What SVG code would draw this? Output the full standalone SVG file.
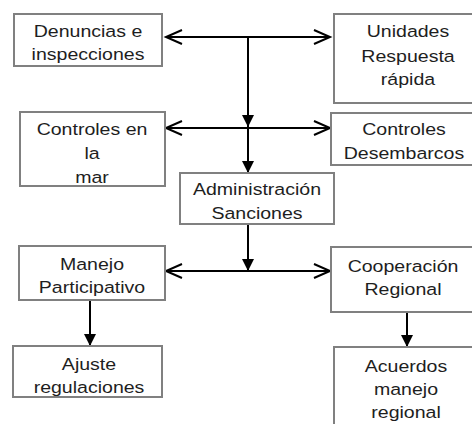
<svg xmlns="http://www.w3.org/2000/svg" width="472" height="424" viewBox="0 0 472 424">
<style>
.box{fill:#fff;stroke:#808080;stroke-width:2}
.t{font-family:"Liberation Sans",Arial,sans-serif;font-size:17px;fill:#1e1e1e;text-anchor:middle}
.c{fill:none;stroke:#000;stroke-width:2}
.o{marker-start:url(#open);marker-end:url(#open)}
.f{marker-end:url(#fill)}
</style>
<defs>
<marker id="open" markerUnits="userSpaceOnUse" viewBox="0 0 18 16" refX="17" refY="8" markerWidth="18" markerHeight="16" orient="auto-start-reverse" overflow="visible">
<path d="M1,1 L17,8 L1,15" fill="none" stroke="#000" stroke-width="2"/>
</marker>
<marker id="fill" markerUnits="userSpaceOnUse" viewBox="0 0 12 12" refX="12" refY="6" markerWidth="12" markerHeight="12" orient="auto" overflow="visible">
<path d="M0,0 L12,6 L0,12 Z" fill="#000"/>
</marker>
</defs>
<rect width="472" height="424" fill="#fff"/>
<g id="connectors">
<line class="c o" x1="166" y1="37" x2="330" y2="37"/>
<line class="c f" x1="248" y1="37" x2="248" y2="127"/>
<line class="c o" x1="166" y1="128" x2="330" y2="128"/>
<line class="c f" x1="248" y1="128" x2="248" y2="173"/>
<line class="c f" x1="248" y1="224" x2="248" y2="271"/>
<line class="c o" x1="166" y1="271" x2="330" y2="271"/>
<line class="c f" x1="90" y1="300" x2="90" y2="346"/>
<line class="c f" x1="407" y1="312" x2="407" y2="347"/>
</g>
<g id="denuncias">
<rect class="box" x="14" y="14" width="148" height="52"/>
<text class="t" transform="translate(88 0) scale(1.15 1)"><tspan x="0" y="37">Denuncias e</tspan><tspan x="0" y="60">inspecciones</tspan></text>
</g>
<g id="unidades">
<rect class="box" x="334" y="14" width="150" height="89"/>
<text class="t" transform="translate(408 0) scale(1.15 1)"><tspan x="0" y="37">Unidades</tspan><tspan x="0" y="62">Respuesta</tspan><tspan x="0" y="85">rápida</tspan></text>
</g>
<g id="controles-mar">
<rect class="box" x="20" y="112" width="145" height="74"/>
<text class="t" transform="translate(92 0) scale(1.15 1)"><tspan x="0" y="135">Controles en</tspan><tspan x="0" y="159">la</tspan><tspan x="0" y="183">mar</tspan></text>
</g>
<g id="controles-desembarcos">
<rect class="box" x="331" y="113" width="150" height="52"/>
<text class="t" transform="translate(404 0) scale(1.15 1)"><tspan x="0" y="135">Controles</tspan><tspan x="0" y="159">Desembarcos</tspan></text>
</g>
<g id="administracion">
<rect class="box" x="180" y="173" width="154" height="51"/>
<text class="t" transform="translate(257 0) scale(1.15 1)"><tspan x="0" y="195">Administración</tspan><tspan x="0" y="219">Sanciones</tspan></text>
</g>
<g id="manejo">
<rect class="box" x="19" y="246" width="146" height="54"/>
<text class="t" transform="translate(92 0) scale(1.15 1)"><tspan x="0" y="270">Manejo</tspan><tspan x="0" y="293">Participativo</tspan></text>
</g>
<g id="ajuste">
<rect class="box" x="13" y="346" width="149" height="51"/>
<text class="t" transform="translate(89 0) scale(1.15 1)"><tspan x="0" y="370">Ajuste</tspan><tspan x="0" y="393">regulaciones</tspan></text>
</g>
<g id="cooperacion">
<rect class="box" x="331" y="247" width="150" height="65"/>
<text class="t" transform="translate(403 0) scale(1.15 1)"><tspan x="0" y="272">Cooperación</tspan><tspan x="0" y="295">Regional</tspan></text>
</g>
<g id="acuerdos">
<rect class="box" x="334" y="347" width="150" height="90"/>
<text class="t" transform="translate(406 0) scale(1.15 1)"><tspan x="0" y="372">Acuerdos</tspan><tspan x="0" y="395">manejo</tspan><tspan x="0" y="418">regional</tspan></text>
</g>
</svg>
